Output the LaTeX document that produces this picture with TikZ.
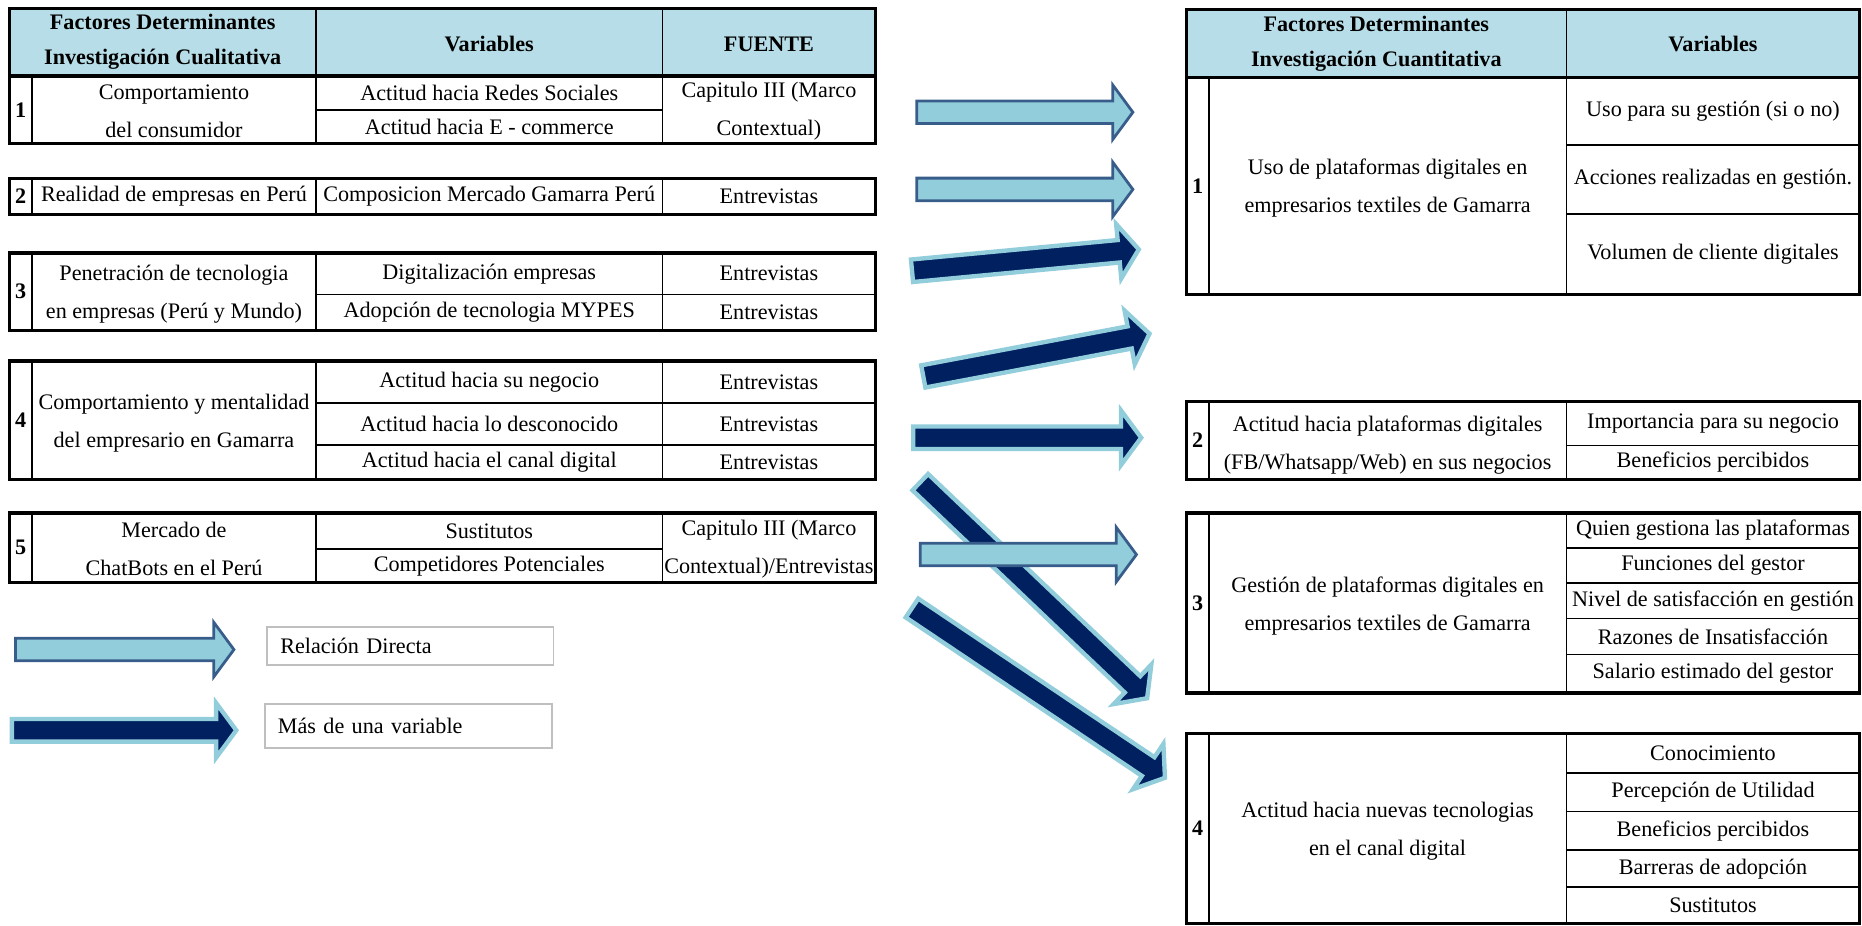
\documentclass[tikz,border=0pt]{standalone}
\usepackage{fontspec}
\setmainfont{Liberation Serif}
\usetikzlibrary{calc}

\definecolor{cabecera}{RGB}{183,222,232}
\definecolor{celeste}{RGB}{146,205,220}
\definecolor{bordeazul}{RGB}{56,93,138}
\definecolor{marino}{RGB}{0,32,96}
\definecolor{gris}{RGB}{191,191,191}

\tikzset{
  marco/.style={line width=1.6pt},
  fina/.style={line width=0.8pt},
  txt/.style={font=\fontsize{11.2}{19.2}\selectfont,align=center,inner sep=0pt},
  tit/.style={font=\fontsize{11.2}{17.6}\selectfont\bfseries,align=center,inner sep=0pt},
  num/.style={font=\fontsize{11.2}{13}\selectfont\bfseries,inner sep=0pt},
  caja/.style={draw=gris,line width=0.8pt,font=\fontsize{11.2}{13}\selectfont,align=left,inner xsep=6.6pt,inner ysep=0pt},
  directa/.style={fill=celeste,draw=bordeazul,line width=1.4pt},
  varias/.style={fill=marino,draw=celeste,line width=2.2pt},
}

\newcommand{\flecha}[3]{%
  \draw[#1] let \p1=($(#3)-(#2)$), \n1={veclen(\x1,\y1)}, \n2={atan2(\y1,\x1)} in
    [shift={(#2)},rotate=\n2] (0pt,-5.7pt) -- (\n1-10.2pt,-5.7pt) -- (\n1-10.2pt,-13.8pt)
    -- (\n1,0pt) -- (\n1-10.2pt,13.8pt) -- (\n1-10.2pt,5.7pt) -- (0pt,5.7pt) -- cycle;}

\begin{document}
\begin{tikzpicture}[x=0.6pt,y=-0.6pt]
\useasboundingbox (0,0) rectangle (1568,779);

% cualitativa
\fill[cabecera] (8,7) rectangle (737,64);
\draw[fina] (27,64) -- (27,120.7) (266,7) -- (266,120.7) (558,7) -- (558,120.7) (266,92.5) -- (558,92.5);
\draw[marco] (8,64) -- (737,64);
\draw[marco] (8,7) rectangle (737,120.7);
\foreach \ya/\yb in {150/180.5,213/278,304/403.5,432/490.5}{
  \draw[fina] (27,\ya) -- (27,\yb) (266,\ya) -- (266,\yb) (558,\ya) -- (558,\yb);
  \draw[marco] (8,\ya) rectangle (737,\yb);
}
\draw[fina] (266,248) -- (736,248);
\draw[fina] (266,339.5) -- (736,339.5) (266,374.5) -- (736,374.5);
\draw[fina] (266,462.5) -- (558,462.5);

\node[tit] (factA) at (137,35.5) {Factores Determinantes\\Investigación Cualitativa};
\node[tit] (varA) at (412,37) {Variables};
\node[tit] (fuente) at (647.5,37) {FUENTE};

\node[num] (n1) at (17.5,92.5) {1};
\node[txt] (f1) at (146.5,94) {Comportamiento\\del consumidor};
\node[txt] (v11) at (412,78.3) {Actitud hacia Redes Sociales};
\node[txt] (v12) at (412,106.6) {Actitud hacia E - commerce};
\node[txt] (s1) at (647.5,94) {Capitulo III (Marco\\Contextual)};

\node[num] (n2) at (17.5,165) {2};
\node[txt] (f2) at (146.5,165) {Realidad de empresas en Perú};
\node[txt] (v21) at (412,165) {Composicion Mercado Gamarra Perú};
\node[txt] (s2) at (647.5,165) {Entrevistas};

\node[num] (n3) at (17.5,245.5) {3};
\node[txt] (f3) at (146.5,247.5) {Penetración de tecnologia\\en empresas (Perú y Mundo)};
\node[txt] (v31) at (412,230.5) {Digitalización empresas};
\node[txt] (v32) at (412,263) {Adopción de tecnologia MYPES};
\node[txt] (s31) at (647.5,230.5) {Entrevistas};
\node[txt] (s32) at (647.5,263) {Entrevistas};

\node[num] (n4) at (17.5,354) {4};
\node[txt] (f4) at (146.5,356) {Comportamiento y mentalidad\\del empresario en Gamarra};
\node[txt] (v41) at (412,322) {Actitud hacia su negocio};
\node[txt] (v42) at (412,357) {Actitud hacia lo desconocido};
\node[txt] (v43) at (412,389) {Actitud hacia el canal digital};
\node[txt] (s41) at (647.5,322) {Entrevistas};
\node[txt] (s42) at (647.5,357) {Entrevistas};
\node[txt] (s43) at (647.5,389) {Entrevistas};

\node[num] (n5) at (17.5,461) {5};
\node[txt] (f5) at (146.5,462.5) {Mercado de\\ChatBots en el Perú};
\node[txt] (v51) at (412,447) {Sustitutos};
\node[txt] (v52) at (412,476.5) {Competidores Potenciales};
\node[txt] (s5) at (647.5,462.5) {Capitulo III (Marco\\Contextual)/Entrevistas};

% cuantitativa
\fill[cabecera] (999,8) rectangle (1566,65);
\draw[fina] (1018,65) -- (1018,248) (1319,8) -- (1319,248);
\draw[fina] (1319,122) -- (1566,122) (1319,180) -- (1566,180);
\draw[marco] (999,65) -- (1566,65);
\draw[marco] (999,8) rectangle (1566,248);
\foreach \ya/\yb in {338/404,432/583.5,617.5/777.5}{
  \draw[fina] (1018,\ya) -- (1018,\yb) (1319,\ya) -- (1319,\yb);
  \draw[marco] (999,\ya) rectangle (1566,\yb);
}
\draw[fina] (1319,375) -- (1566,375);
\foreach \y in {461.5,491,521,551} \draw[fina] (1319,\y) -- (1566,\y);
\foreach \y in {650.7,683.5,716,747} \draw[fina] (1319,\y) -- (1566,\y);

\node[tit] (factB) at (1159,36.5) {Factores Determinantes\\Investigación Cuantitativa};
\node[tit] (varB) at (1442.5,37) {Variables};

\node[num] (m1) at (1008.5,156.5) {1};
\node[txt] (g1) at (1168.5,158) {Uso de plataformas digitales en\\empresarios textiles de Gamarra};
\node[txt] (w11) at (1442.5,93.5) {Uso para su gestión (si o no)};
\node[txt] (w12) at (1442.5,151) {Acciones realizadas en gestión.};
\node[txt] (w13) at (1442.5,214) {Volumen de cliente digitales};

\node[num] (m2) at (1008.5,371) {2};
\node[txt] (g2) at (1168.5,374.7) {Actitud hacia plataformas digitales\\(FB/Whatsapp/Web) en sus negocios};
\node[txt] (w21) at (1442.5,356.5) {Importancia para su negocio};
\node[txt] (w22) at (1442.5,389.5) {Beneficios percibidos};

\node[num] (m3) at (1008.5,508) {3};
\node[txt] (g3) at (1168.5,510) {Gestión de plataformas digitales en\\empresarios textiles de Gamarra};
\node[txt] (w31) at (1442.5,446.7) {Quien gestiona las plataformas};
\node[txt] (w32) at (1442.5,476.2) {Funciones del gestor};
\node[txt] (w33) at (1442.5,506) {Nivel de satisfacción en gestión};
\node[txt] (w34) at (1442.5,536) {Razones de Insatisfacción};
\node[txt] (w35) at (1442.5,567) {Salario estimado del gestor};

\node[num] (m4) at (1008.5,697.5) {4};
\node[txt] (g4) at (1168.5,699.6) {Actitud hacia nuevas tecnologias\\en el canal digital};
\node[txt] (w41) at (1442.5,634) {Conocimiento};
\node[txt] (w42) at (1442.5,667) {Percepción de Utilidad};
\node[txt] (w43) at (1442.5,700) {Beneficios percibidos};
\node[txt] (w44) at (1442.5,731.5) {Barreras de adopción};
\node[txt] (w45) at (1442.5,762) {Sustitutos};

% flechas
\coordinate (a1) at (772,94.5);  \coordinate (b1) at (954,94.5);
\coordinate (a2) at (772,159.5); \coordinate (b2) at (954,159.5);
\coordinate (a3) at (768,228);   \coordinate (b3) at (959,210);
\coordinate (a4) at (777.5,317); \coordinate (b4) at (968,281);
\coordinate (a5) at (769,368.6); \coordinate (b5) at (961,368.6);
\coordinate (a6) at (775,406);   \coordinate (b6) at (966,588);
\coordinate (a7) at (775,467);   \coordinate (b7) at (957,467);
\coordinate (a8) at (768,512);   \coordinate (b8) at (981,655);
\flecha{directa}{a1}{b1}
\flecha{directa}{a2}{b2}
\flecha{varias}{a3}{b3}
\flecha{varias}{a4}{b4}
\flecha{varias}{a5}{b5}
\flecha{varias}{a6}{b6}
\flecha{directa}{a7}{b7}
\flecha{varias}{a8}{b8}

% leyenda
\coordinate (la) at (13,547);  \coordinate (lb) at (197,547);
\coordinate (lc) at (10,615);  \coordinate (ld) at (199,615);
\flecha{directa}{la}{lb}
\flecha{varias}{lc}{ld}
\node[caja,text width=131.4pt,minimum height=19.2pt] (rd) at (345.5,544) {Relación Directa};
\node[caja,text width=132pt,minimum height=22.2pt] (mv) at (344,611.5) {Más de una variable};
\end{tikzpicture}
\end{document}
